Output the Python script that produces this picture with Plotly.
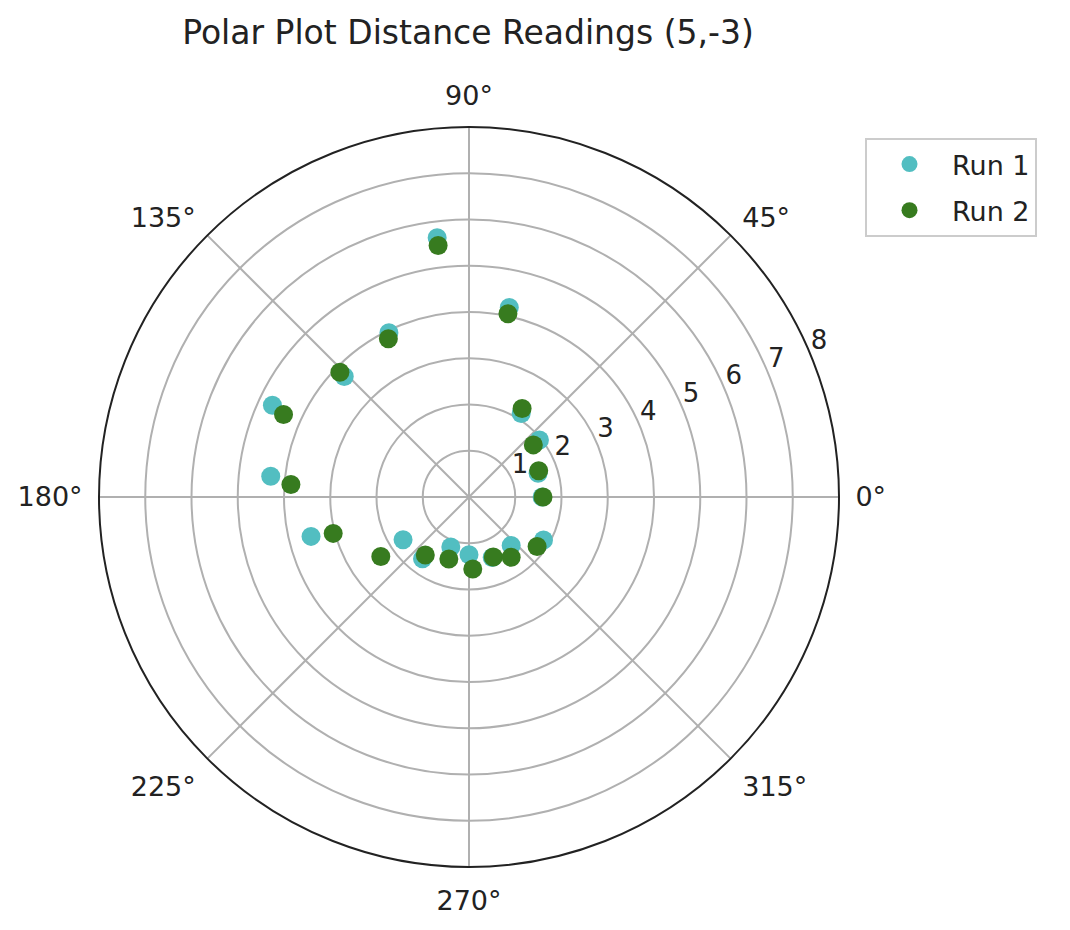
"""Polar scatter of distance readings for two runs."""

import plotly.graph_objects as go

# Readings (angle in degrees, distance)
run1_theta = [0, 19, 39, 58, 78, 97, 116, 136, 155, 174, 194, 213, 233, 250, 270, 291, 311, 330]
run1_r = [1.58, 1.58, 1.96, 2.13, 4.19, 5.65, 3.95, 3.75, 4.69, 4.31, 3.52, 1.70, 1.67, 1.15, 1.25, 1.40, 1.39, 1.86]

run2_theta = [0, 20.6, 39, 59, 78, 97, 117, 136, 156, 176, 195, 214, 233, 252, 273, 292, 305, 324]
run2_r = [1.60, 1.61, 1.79, 2.23, 4.05, 5.48, 3.84, 3.88, 4.39, 3.86, 3.04, 2.30, 1.57, 1.41, 1.56, 1.40, 1.59, 1.82]

radial_ticks = [1, 2, 3, 4, 5, 6, 7, 8]
radial_label_angle = 22.5

FONT = "DejaVu Sans"

fig = go.Figure()

fig.add_trace(go.Scatterpolar(
    r=run1_r,
    theta=run1_theta,
    mode="markers",
    name="Run 1",
    legendgroup="run1",
    marker=dict(color="#52bec1", size=19),
))

fig.add_trace(go.Scatterpolar(
    r=run2_r,
    theta=run2_theta,
    mode="markers",
    name="Run 2",
    legendgroup="run2",
    marker=dict(color="#377b1f", size=19),
))

# radial tick labels sit beside the 22.5 deg ray, matplotlib style
fig.add_trace(go.Scatterpolar(
    r=radial_ticks,
    theta=[radial_label_angle] * len(radial_ticks),
    mode="text",
    text=[str(t) for t in radial_ticks],
    textposition="top right",
    textfont=dict(family=FONT, size=26, color="#222222"),
    showlegend=False,
    hoverinfo="skip",
    cliponaxis=False,
))

fig.update_layout(
    width=1070,
    height=930,
    margin=dict(l=0, r=0, t=0, b=0),
    paper_bgcolor="white",
    font=dict(family=FONT, size=27, color="#222222"),
    title=dict(
        text="Polar Plot Distance Readings (5,-3)",
        x=460 / 1070,
        xanchor="center",
        y=1 - 24 / 930,
        yanchor="middle",
        font=dict(size=33, color="#222222"),
    ),
    polar=dict(
        domain=dict(x=[91 / 1070, 831 / 1070], y=[71 / 930, 811 / 930]),
        bgcolor="white",
        radialaxis=dict(
            range=[0, 8],
            tickvals=radial_ticks,
            showticklabels=False,
            angle=radial_label_angle,
            showline=False,
            ticks="",
            gridcolor="#b0b0b0",
            gridwidth=1.5,
        ),
        angularaxis=dict(
            direction="counterclockwise",
            rotation=0,
            dtick=45,
            ticksuffix="°",
            ticks="outside",
            ticklen=10,
            tickcolor="rgba(0,0,0,0)",
            showline=True,
            linecolor="#222222",
            linewidth=2,
            gridcolor="#b0b0b0",
            gridwidth=1.5,
            tickfont=dict(size=27),
        ),
    ),
    legend=dict(
        x=857 / 1070,
        y=1 - 130 / 930,
        xanchor="left",
        yanchor="top",
        bordercolor="#cccccc",
        borderwidth=2,
        bgcolor="white",
        font=dict(size=27),
        itemwidth=75,
        tracegroupgap=8,
    ),
)

fig.write_html("out.html")
